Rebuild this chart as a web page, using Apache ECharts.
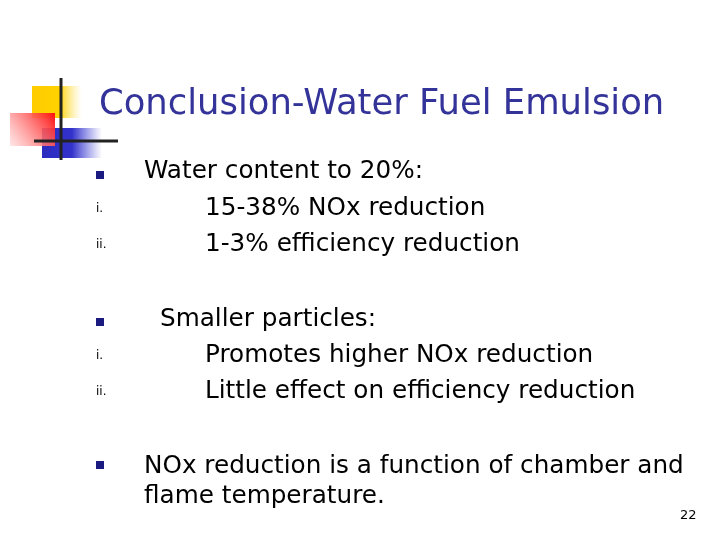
<!DOCTYPE html>
<html><head><meta charset="utf-8">
<script src="https://cdn.jsdelivr.net/npm/echarts@6/dist/echarts.min.js"></script>
<style>html,body{margin:0;padding:0;background:#fff}#c{width:720px;height:540px}</style>
</head><body><div id="c"></div>
<script>
const titleText = 'Conclusion-Water Fuel Emulsion';
const bodyLines = ['Water content to 20%:', '15-38% NOx reduction', '1-3% efficiency reduction',
  'Smaller particles:', 'Promotes higher NOx reduction', 'Little effect on efficiency reduction',
  'NOx reduction is a function of chamber and', 'flame temperature.'];
const markers = ['■', 'i.', 'ii.', '■', 'i.', 'ii.', '■'];
const pageNumber = '22';

const lineX = [144, 205, 205, 160, 205, 205, 144, 144];
const lineY = [172, 209, 245, 320, 356, 392, 467, 497];
const markerY = [175, 209, 245, 322, 356, 392, 465];

const font = '"DejaVu Sans", Verdana, sans-serif';
const els = [];
els.push({type:'rect', shape:{x:32,y:86,width:50,height:32}, style:{fill:{type:'linear',x:0,y:0,x2:1,y2:0,colorStops:[{offset:0,color:'#ffcc00'},{offset:0.55,color:'#ffd200'},{offset:1,color:'rgba(255,230,120,0)'}]}}});
els.push({type:'rect', shape:{x:42,y:128,width:60,height:30}, style:{fill:{type:'linear',x:0,y:0,x2:1,y2:0,colorStops:[{offset:0,color:'#2b2bbf'},{offset:0.5,color:'#3333cc'},{offset:1,color:'rgba(80,80,220,0)'}]}}});
els.push({type:'rect', shape:{x:10,y:113,width:45,height:33}, style:{fill:{type:'linear',x:1,y:0,x2:0,y2:1,colorStops:[{offset:0,color:'#ff1010'},{offset:1,color:'rgba(255,220,220,0.7)'}]}}});
els.push({type:'line', shape:{x1:61,y1:78,x2:61,y2:160}, style:{stroke:'#222',lineWidth:3}});
els.push({type:'line', shape:{x1:34,y1:141,x2:118,y2:141}, style:{stroke:'#222',lineWidth:3}});
els.push({type:'text', x:99, y:105, style:{text:titleText, font:'35.4px '+font, fill:'#333399', textVerticalAlign:'middle'}});
bodyLines.forEach((t,i)=>els.push({type:'text', x:lineX[i], y:lineY[i], style:{text:t, font:'24.7px '+font, fill:'#000', textVerticalAlign:'middle'}}));
markers.forEach((m,i)=>{
  if (m==='■') els.push({type:'rect', shape:{x:96,y:markerY[i]-4,width:8,height:8}, style:{fill:'#1a1a80'}});
  else els.push({type:'text', x:96, y:markerY[i], style:{text:m, font:'12px '+font, fill:'#000', textVerticalAlign:'middle'}});
});
els.push({type:'text', x:680, y:516, style:{text:pageNumber, font:'13px '+font, fill:'#000', textVerticalAlign:'middle'}});
const chart = echarts.init(document.getElementById('c'));
chart.setOption({animation:false, graphic:{elements:els}});
</script></body></html>
